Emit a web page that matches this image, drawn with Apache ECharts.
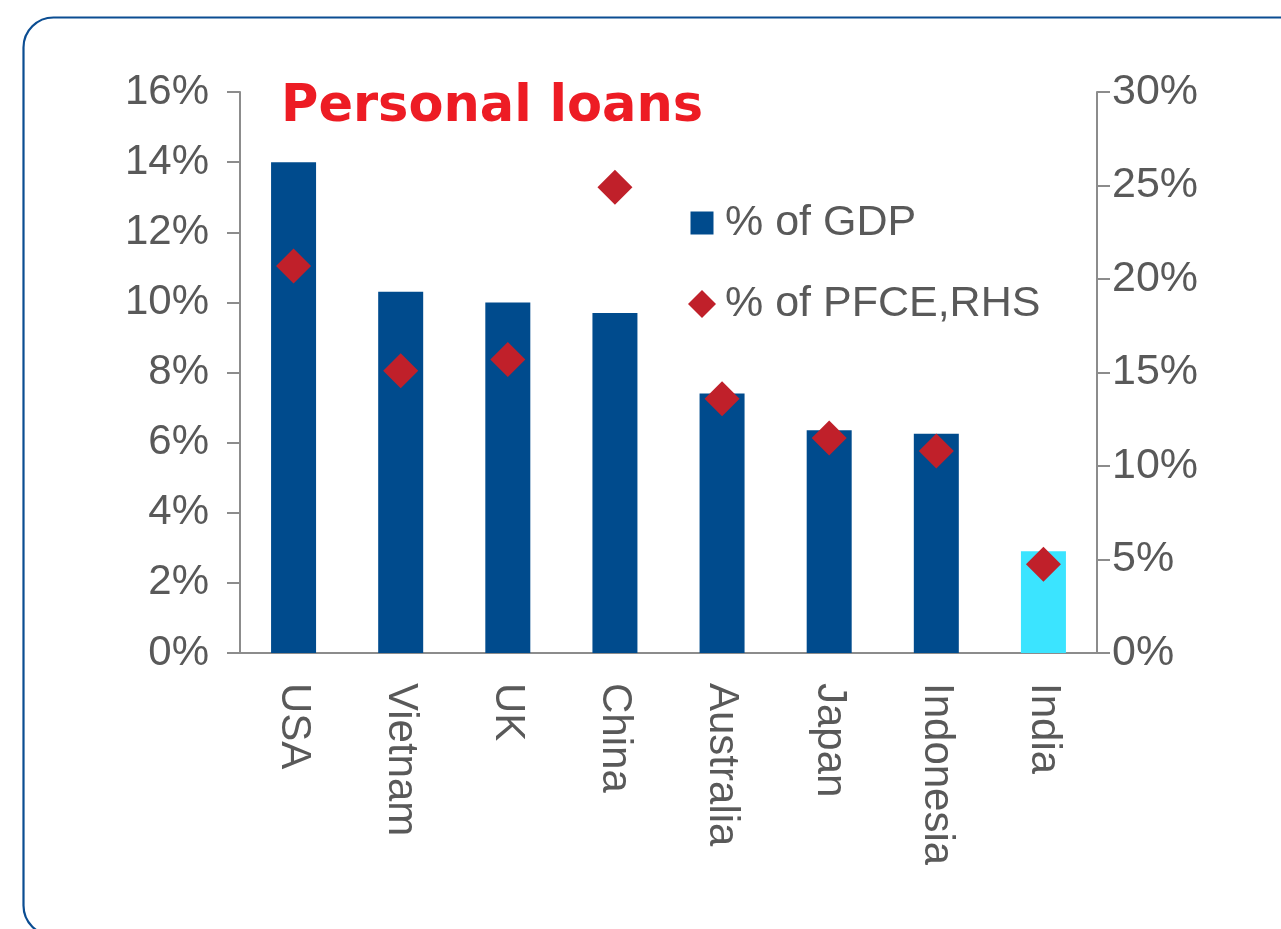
<!DOCTYPE html>
<html>
<head>
<meta charset="utf-8">
<script src="https://cdn.jsdelivr.net/npm/echarts@6/dist/echarts.min.js"></script>
<style>
  html, body { margin: 0; padding: 0; background: #ffffff; }
  #chart { width: 1281px; height: 929px; }
</style>
</head>
<body>
<div id="chart"></div>
<script>
// Personal loans by country: share of GDP (bars, left axis) and share of PFCE (diamonds, right axis)
const countries = ['USA', 'Vietnam', 'UK', 'China', 'Australia', 'Japan', 'Indonesia', 'India'];
const pctOfGdp = [14.0, 10.3, 10.0, 9.7, 7.4, 6.35, 6.25, 2.9];
const pctOfPfce = [20.7, 15.1, 15.7, 24.9, 13.6, 11.5, 10.8, 4.75];
const seriesNames = ['% of GDP', '% of PFCE,RHS'];
const titleText = 'Personal loans';

const navy = '#004b8d';
const highlight = '#3be4ff';
const red = '#c0202a';
const grey = '#595959';
const axisGrey = '#8c8c8c';
const labelFont = 'Liberation Sans, Arial, sans-serif';

const chart = echarts.init(document.getElementById('chart'), null, { renderer: 'canvas' });

const barData = pctOfGdp.map((v, i) => ({
  value: v,
  itemStyle: { color: countries[i] === 'India' ? highlight : navy }
}));

chart.setOption({
  animation: false,
  backgroundColor: '#ffffff',
  graphic: [{
    type: 'rect',
    shape: { x: 23.5, y: 17.5, width: 1330, height: 918, r: 30 },
    style: { fill: 'none', stroke: '#0b4d92', lineWidth: 2.2 },
    silent: true,
    z: -1
  }],
  title: {
    text: titleText,
    left: 281,
    top: 82,
    padding: 0,
    textStyle: {
      fontFamily: 'DejaVu Sans, sans-serif',
      fontWeight: 'bold',
      fontSize: 51,
      color: '#ed1c24'
    }
  },
  legend: {
    orient: 'vertical',
    left: 688,
    top: 198,
    itemGap: 31,
    itemWidth: 28,
    itemHeight: 28,
    padding: 0,
    textStyle: {
      fontFamily: labelFont,
      fontSize: 43,
      lineHeight: 50,
      color: grey,
      padding: [0, 0, 0, 4]
    },
    data: [
      { name: seriesNames[0], icon: 'path://M0,0M2.5,2.5H25.5V25.5H2.5ZM28,28', itemStyle: { color: navy } },
      { name: seriesNames[1], icon: 'path://M0,14L14,0L28,14L14,28Z', itemStyle: { color: red, opacity: 1 } }
    ]
  },
  grid: { left: 240, right: 184, top: 92, bottom: 276 },
  xAxis: {
    type: 'category',
    data: countries,
    axisLine: { lineStyle: { color: axisGrey, width: 2 } },
    axisTick: { length: 13, lineStyle: { color: axisGrey, width: 2 } },
    axisLabel: {
      rotate: -90,
      margin: 30,
      fontFamily: labelFont,
      fontSize: 42,
      color: grey
    }
  },
  yAxis: [{
    type: 'value',
    min: 0,
    max: 16,
    interval: 2,
    splitLine: { show: false },
    axisLine: { show: true, lineStyle: { color: axisGrey, width: 2 } },
    axisTick: { show: true, length: 13, lineStyle: { color: axisGrey, width: 2 } },
    axisLabel: {
      margin: 31,
      formatter: '{value}%',
      fontFamily: labelFont,
      fontSize: 42,
      color: grey
    }
  }, {
    type: 'value',
    min: 0,
    max: 30,
    interval: 5,
    position: 'right',
    splitLine: { show: false },
    axisLine: { show: true, lineStyle: { color: axisGrey, width: 2 } },
    axisTick: { show: true, length: 13, lineStyle: { color: axisGrey, width: 2 } },
    axisLabel: {
      margin: 15,
      formatter: '{value}%',
      fontFamily: labelFont,
      fontSize: 43,
      color: grey
    }
  }],
  series: [{
    name: seriesNames[0],
    type: 'bar',
    yAxisIndex: 0,
    barWidth: 45,
    itemStyle: { color: navy },
    data: barData
  }, {
    name: seriesNames[1],
    type: 'scatter',
    yAxisIndex: 1,
    symbol: 'diamond',
    symbolSize: 35,
    itemStyle: { color: red, opacity: 1 },
    data: pctOfPfce,
    z: 5
  }]
});
</script>
</body>
</html>
